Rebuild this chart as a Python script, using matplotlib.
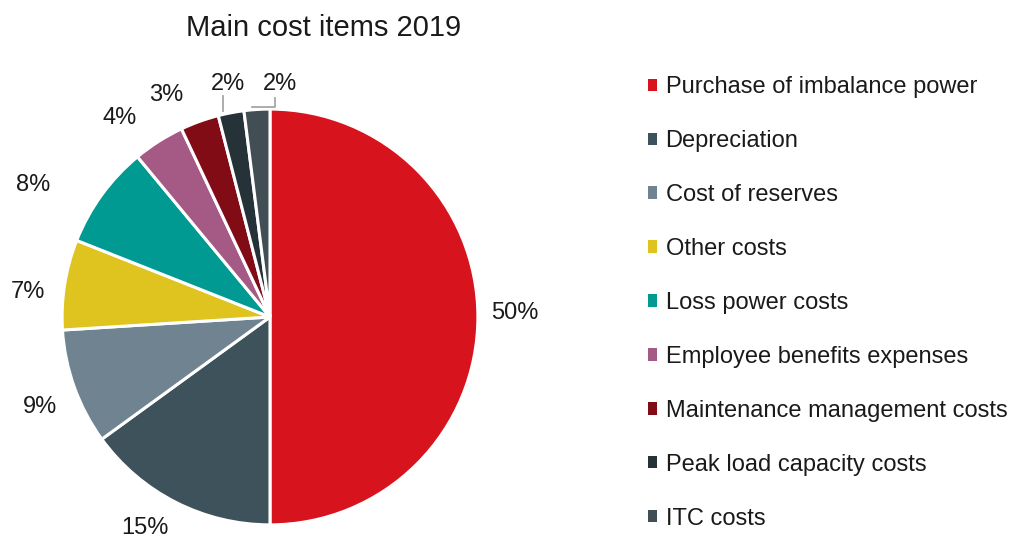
import matplotlib.pyplot as plt
from matplotlib.patches import Patch

plt.rcParams['font.family'] = ['Liberation Sans', 'DejaVu Sans']

categories = ['Purchase of imbalance power', 'Depreciation', 'Cost of reserves',
              'Other costs', 'Loss power costs', 'Employee benefits expenses',
              'Maintenance management costs', 'Peak load capacity costs', 'ITC costs']
shares = [50, 15, 9, 7, 8, 4, 3, 2, 2]
colors = ['#D7141E', '#3E525C', '#6F8490', '#DFC41F', '#009A93', '#A45A85',
          '#820C15', '#253238', '#414E54']

# label spots (in pie radius units)
label_pos = [(1.178, 0.019), (-0.60, -1.015), (-1.106, -0.433), (-1.163, 0.12),
             (-1.139, 0.635), (-0.721, 0.957), (-0.50, 1.067), (-0.202, 1.12),
             (0.048, 1.12)]

fig = plt.figure(figsize=(10.15, 5.4), dpi=100)
ax = fig.add_axes([0.266 - 0.205, 0.413 - 0.385, 0.41, 0.77])

wedges, texts = ax.pie(shares, colors=colors, startangle=90, counterclock=False,
                       labels=[f'{s}%' for s in shares], labeldistance=1.18,
                       wedgeprops=dict(edgecolor='white', linewidth=2.2),
                       textprops=dict(fontsize=17, color='#1a1a1a'))
for t, p in zip(texts, label_pos):
    t.set_position(p)
    t.set_ha('center')
    t.set_va('center')
ax.set_aspect('equal')

# leader lines for the two small slices
ax.plot([-0.226, -0.226], [0.99, 1.065], color='#a6a6a6', lw=1.3, clip_on=False)
ax.plot([-0.087, 0.024, 0.024], [1.01, 1.01, 1.055], color='#a6a6a6', lw=1.3, clip_on=False)

ax.set_xlim(-1.0, 1.0)
ax.set_ylim(-1.0, 1.0)

fig.text(0.319, 0.948, 'Main cost items 2019', ha='center', va='center', fontsize=21, color='#1a1a1a')

handles = [Patch(facecolor=c, edgecolor='none') for c in colors]
leg = fig.legend(handles, categories, loc='upper left', bbox_to_anchor=(0.638, 0.859),
                 frameon=False, fontsize=17, handlelength=0.42, handleheight=0.42,
                 handletextpad=0.34, labelspacing=1.353, borderpad=0, borderaxespad=0)
for t in leg.get_texts():
    t.set_color('#1a1a1a')

fig.savefig('out.png', dpi=100)
